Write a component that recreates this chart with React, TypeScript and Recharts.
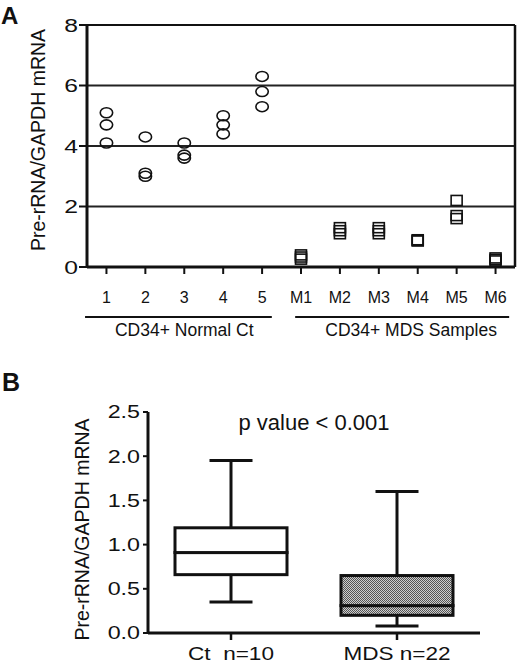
import React from 'react';
import {
  ScatterChart,
  Scatter,
  XAxis,
  YAxis,
  CartesianGrid,
  ReferenceLine,
  ComposedChart,
  Bar,
} from 'recharts';

const FONT = '"Liberation Sans", Arial, Helvetica, sans-serif';
const INK = '#111';

// ---------- Panel A data ----------
const sampleLabels = ['1', '2', '3', '4', '5', 'M1', 'M2', 'M3', 'M4', 'M5', 'M6'];
const normalValues = [
  [5.1, 4.7, 4.1],
  [4.3, 3.1, 3.0],
  [4.1, 3.7, 3.6],
  [5.0, 4.7, 4.4],
  [6.3, 5.8, 5.3],
];
const mdsValues = [
  [0.4, 0.33, 0.26],
  [1.3, 1.2, 1.1],
  [1.3, 1.2, 1.1],
  [0.9, 0.88, 0.86],
  [2.2, 1.7, 1.6],
  [0.3, 0.25, 0.2],
];
const yTicksA = [0, 2, 4, 6, 8];
const xTicksA = [1, 2, 3, 4, 5, 6, 7, 8, 9, 10, 11];
const groupLabels = ['CD34+ Normal Ct', 'CD34+ MDS Samples'];
const groupCenters = [3.0, 8.83];
const groupSpans = [
  [0.45, 5.25],
  [5.85, 11.35],
];

// ---------- Panel B data ----------
const boxCategories = ['Ct\u00a0\u00a0n=10', 'MDS n=22'];
const boxMin = [0.35, 0.08];
const boxQ1 = [0.66, 0.2];
const boxMedian = [0.91, 0.31];
const boxQ3 = [1.19, 0.65];
const boxMax = [1.95, 1.6];
const yTicksB = [0, 0.5, 1, 1.5, 2, 2.5];
const pValueText = 'p value < 0.001';
const yTitle = 'Pre-rRNA/GAPDH mRNA';

const normalData = normalValues.flatMap((vals, i) => vals.map((v) => ({ x: i + 1, y: v })));
const mdsData = mdsValues.flatMap((vals, i) =>
  vals.map((v) => ({ x: normalValues.length + i + 1, y: v }))
);
const groupData = groupCenters.map((c) => ({ x: c, y: 0 }));

const boxData = boxCategories.map((name, i) => ({
  name,
  idx: i,
  base: boxMin[i],
  lowW: boxQ1[i] - boxMin[i],
  lowBox: boxMedian[i] - boxQ1[i],
  highBox: boxQ3[i] - boxMedian[i],
  highW: boxMax[i] - boxQ3[i],
}));

// plot A layout constants (used only for the group bracket widths)
const A_PLOT_WIDTH = 520 - 87 - 5;
const A_UNIT = A_PLOT_WIDTH / 11;

const Ellipse = (p: any) => (
  <ellipse cx={p.cx} cy={p.cy} rx={6.2} ry={5} fill="none" stroke={INK} strokeWidth={1.6} />
);
const Square = (p: any) => (
  <rect x={p.cx - 5.5} y={p.cy - 5} width={11} height={10} fill="none" stroke={INK} strokeWidth={1.6} />
);
const NoShape = () => <g />;

const YTick = (p: any) => {
  const { x, y, payload, fs, sx, fmt } = p;
  return (
    <g transform={`translate(${x},${y}) scale(${sx},1)`}>
      <text x={0} y={0} dy="0.36em" textAnchor="end" fontSize={fs} fill={INK} fontFamily={FONT}>
        {fmt ? fmt(payload.value) : payload.value}
      </text>
    </g>
  );
};

const XTickB = (p: any) => {
  const { x, y, payload } = p;
  return (
    <g transform={`translate(${x},${y}) scale(1.22,1)`}>
      <text x={0} y={0} dy="0.71em" textAnchor="middle" fontSize={18.5} fill={INK} fontFamily={FONT}>
        {payload.value}
      </text>
    </g>
  );
};

const GroupTick = (p: any) => {
  const { x, y, payload, index } = p;
  let i = groupCenters.indexOf(payload && payload.value);
  if (i < 0) i = index ?? 0;
  if (i < 0 || i >= groupCenters.length) return <g />;
  const c = groupCenters[i];
  const x1 = x + (groupSpans[i][0] - c) * A_UNIT;
  const x2 = x + (groupSpans[i][1] - c) * A_UNIT;
  return (
    <g>
      <line x1={x1} x2={x2} y1={y + 7} y2={y + 7} stroke={INK} strokeWidth={2} />
      <text x={x} y={y + 26} textAnchor="middle" fontSize={17.5} fill={INK} fontFamily={FONT}>
        {groupLabels[i]}
      </text>
    </g>
  );
};

const YTitle = (p: any) => {
  const vb = p.viewBox || { x: 0, y: 0, width: 0, height: 0 };
  const cx = vb.x + p.ox;
  const cy = vb.y + vb.height / 2 + p.dy;
  return (
    <text
      x={cx}
      y={cy}
      transform={`rotate(-90 ${cx} ${cy})`}
      textAnchor="middle"
      dominantBaseline="central"
      fontSize={19.5}
      fill={INK}
      fontFamily={FONT}
    >
      {yTitle}
    </text>
  );
};

const LowWhisker = (p: any) => {
  const { x, y, width, height } = p;
  const cx = x + width / 2;
  return (
    <g>
      <line x1={cx} x2={cx} y1={y} y2={y + height} stroke={INK} strokeWidth={3} />
      <line x1={cx - 21.5} x2={cx + 21.5} y1={y + height} y2={y + height} stroke={INK} strokeWidth={3} />
    </g>
  );
};
const HighWhisker = (p: any) => {
  const { x, y, width, height } = p;
  const cx = x + width / 2;
  return (
    <g>
      <line x1={cx} x2={cx} y1={y} y2={y + height} stroke={INK} strokeWidth={3} />
      <line x1={cx - 21.5} x2={cx + 21.5} y1={y} y2={y} stroke={INK} strokeWidth={3} />
    </g>
  );
};
const BoxPart = (p: any) => {
  const { x, y, width, height, payload } = p;
  const filled = payload && payload.idx === 1;
  return (
    <g>
      <defs>
        <pattern id="mdsDots" width="2" height="2" patternUnits="userSpaceOnUse">
          <rect width="2" height="2" fill="#cfcfcf" />
          <rect width="1" height="1" fill="#555" />
          <rect x="1" y="1" width="1" height="1" fill="#555" />
        </pattern>
      </defs>
      <rect
        x={x}
        y={y}
        width={width}
        height={height}
        fill={filled ? 'url(#mdsDots)' : '#fff'}
        stroke={INK}
        strokeWidth={3}
      />
    </g>
  );
};

const PanelA = () => (
  <ScatterChart width={520} height={340} margin={{ top: 25, right: 5, left: 0, bottom: 0 }}>
    <CartesianGrid vertical={false} stroke="#222" strokeWidth={2} />
    <XAxis
      xAxisId={0}
      type="number"
      dataKey="x"
      domain={[0.5, 11.5]}
      ticks={xTicksA}
      interval={0}
      tickFormatter={(v: number) => sampleLabels[v - 1]}
      height={43}
      tickSize={7}
      tickMargin={18}
      axisLine={{ stroke: INK, strokeWidth: 3 }}
      tickLine={{ stroke: INK, strokeWidth: 2 }}
      tick={{ fontSize: 16, fill: INK, fontFamily: FONT }}
    />
    <XAxis
      xAxisId="grp"
      type="number"
      dataKey="x"
      domain={[0.5, 11.5]}
      ticks={groupCenters}
      interval={0}
      height={30}
      axisLine={false}
      tickLine={false}
      tickSize={0}
      tickMargin={0}
      tick={<GroupTick />}
    />
    <YAxis
      type="number"
      dataKey="y"
      domain={[0, 8]}
      ticks={yTicksA}
      interval={0}
      width={87}
      tickSize={8}
      tickMargin={1}
      axisLine={{ stroke: INK, strokeWidth: 3 }}
      tickLine={{ stroke: INK, strokeWidth: 2 }}
      tick={<YTick fs={19} sx={1.3} />}
      label={<YTitle ox={38} dy={-6} />}
    />
    <ReferenceLine x={11.5} stroke={INK} strokeWidth={2.5} />
    <ReferenceLine y={8} stroke={INK} strokeWidth={2} />
    <Scatter data={normalData} shape={Ellipse} isAnimationActive={false} />
    <Scatter data={mdsData} shape={Square} isAnimationActive={false} />
    <Scatter xAxisId="grp" data={groupData} shape={NoShape} isAnimationActive={false} />
  </ScatterChart>
);

const PanelB = () => (
  <ComposedChart
    width={520}
    height={325}
    data={boxData}
    margin={{ top: 72, right: 40, left: 0, bottom: 0 }}
    barCategoryGap={0}
  >
    <XAxis
      dataKey="name"
      type="category"
      height={32}
      tickSize={7}
      tickMargin={7}
      interval={0}
      axisLine={{ stroke: INK, strokeWidth: 3 }}
      tickLine={{ stroke: INK, strokeWidth: 2.5 }}
      tick={<XTickB />}
    />
    <YAxis
      type="number"
      domain={[0, 2.5]}
      ticks={yTicksB}
      interval={0}
      width={148}
      tickSize={5}
      tickMargin={3}
      axisLine={{ stroke: INK, strokeWidth: 3 }}
      tickLine={{ stroke: INK, strokeWidth: 2 }}
      tick={<YTick fs={17.5} sx={1.33} fmt={(v: number) => v.toFixed(1)} />}
      label={<YTitle ox={82} dy={7} />}
    />
    <ReferenceLine
      y={2.38}
      stroke="none"
      label={{ value: pValueText, position: 'center', fontSize: 22, fill: INK, fontFamily: FONT }}
    />
    <Bar dataKey="base" stackId="b" fill="none" barSize={112} isAnimationActive={false} />
    <Bar dataKey="lowW" stackId="b" barSize={112} shape={LowWhisker} isAnimationActive={false} />
    <Bar dataKey="lowBox" stackId="b" barSize={112} shape={BoxPart} isAnimationActive={false} />
    <Bar dataKey="highBox" stackId="b" barSize={112} shape={BoxPart} isAnimationActive={false} />
    <Bar dataKey="highW" stackId="b" barSize={112} shape={HighWhisker} isAnimationActive={false} />
  </ComposedChart>
);

export default function App() {
  return (
    <div
      style={{
        position: 'absolute',
        left: 0,
        top: 0,
        width: 520,
        height: 665,
        background: '#fff',
        fontFamily: FONT,
        overflow: 'hidden',
      }}
    >
      <div style={{ position: 'absolute', left: 0, top: 0 }}>
        <PanelA />
      </div>
      <div style={{ position: 'absolute', left: 0, top: 340 }}>
        <PanelB />
      </div>
      <div
        style={{
          position: 'absolute',
          left: 1,
          top: 2,
          fontSize: 24,
          fontWeight: 'bold',
          lineHeight: '28px',
          color: INK,
        }}
      >
        A
      </div>
      <div
        style={{
          position: 'absolute',
          left: 2,
          top: 368,
          fontSize: 25,
          fontWeight: 'bold',
          lineHeight: '29px',
          color: INK,
        }}
      >
        B
      </div>
    </div>
  );
}
